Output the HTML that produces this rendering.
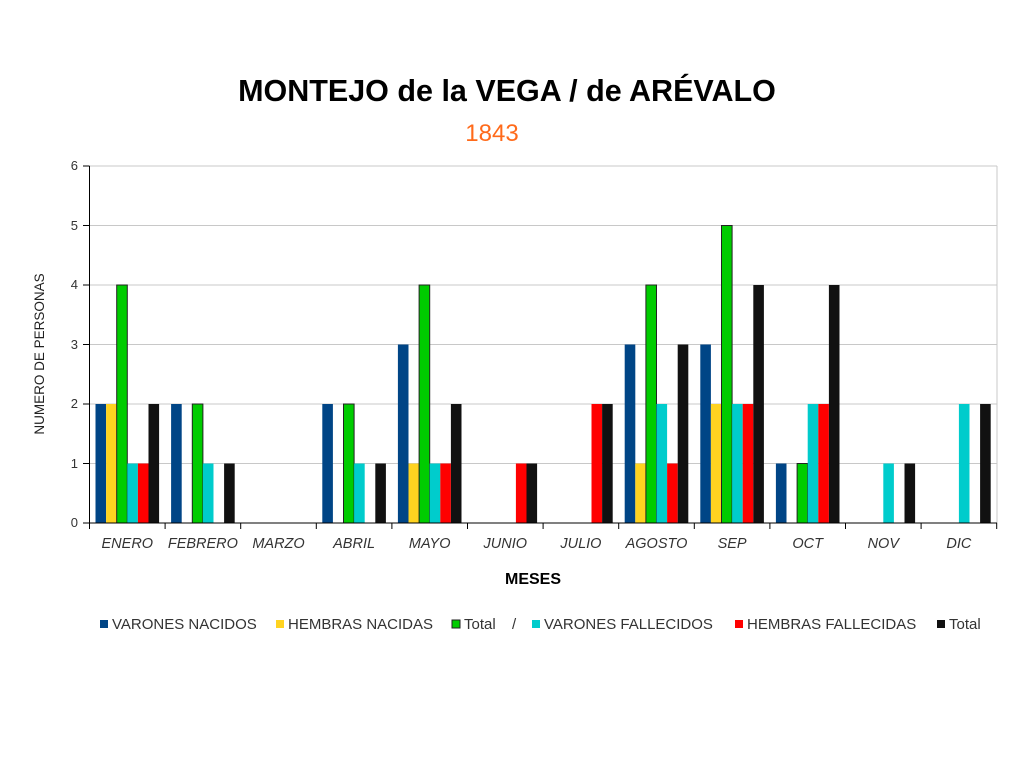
<!DOCTYPE html>
<html><head><meta charset="utf-8"><style>body{margin:0;background:#fff}</style></head><body>
<svg width="1024" height="768" xmlns="http://www.w3.org/2000/svg" font-family="Liberation Sans, sans-serif">
<rect width="1024" height="768" fill="#fff"/>
<text x="507" y="101" text-anchor="middle" font-size="30.5" font-weight="bold" fill="#000">MONTEJO de la VEGA / de ARÉVALO</text>
<text x="492" y="141" text-anchor="middle" font-size="24" fill="#ff6a1a">1843</text>
<g stroke="#c8c8c8" stroke-width="1">
<line x1="89.5" y1="166" x2="997" y2="166"/><line x1="89.5" y1="225.5" x2="997" y2="225.5"/><line x1="89.5" y1="285" x2="997" y2="285"/><line x1="89.5" y1="344.5" x2="997" y2="344.5"/><line x1="89.5" y1="404" x2="997" y2="404"/><line x1="89.5" y1="463.5" x2="997" y2="463.5"/><line x1="997" y1="166" x2="997" y2="523"/>
</g>
<g font-size="13" fill="#333" text-anchor="end">
<text x="78" y="170">6</text><text x="78" y="230">5</text><text x="78" y="289">4</text><text x="78" y="349">3</text><text x="78" y="408">2</text><text x="78" y="468">1</text><text x="78" y="527">0</text>
</g>
<text transform="translate(44,354) rotate(-90)" text-anchor="middle" font-size="13.5" fill="#222">NUMERO DE PERSONAS</text>
<g stroke-width="1">
<g transform="translate(89.5,0)"><rect x="6" y="404" width="10.6" height="119" fill="#004586"/><rect x="16.6" y="404" width="10.6" height="119" fill="#ffd320"/><rect x="27.2" y="285" width="10.6" height="238" fill="#00cc00" stroke="#222"/><rect x="37.8" y="463.5" width="10.6" height="59.5" fill="#00cccc"/><rect x="48.4" y="463.5" width="10.6" height="59.5" fill="#ff0000"/><rect x="59" y="404" width="10.6" height="119" fill="#111"/></g>
<g transform="translate(165.1,0)"><rect x="6" y="404" width="10.6" height="119" fill="#004586"/><rect x="27.2" y="404" width="10.6" height="119" fill="#00cc00" stroke="#222"/><rect x="37.8" y="463.5" width="10.6" height="59.5" fill="#00cccc"/><rect x="59" y="463.5" width="10.6" height="59.5" fill="#111"/></g>
<g transform="translate(316.3,0)"><rect x="6" y="404" width="10.6" height="119" fill="#004586"/><rect x="27.2" y="404" width="10.6" height="119" fill="#00cc00" stroke="#222"/><rect x="37.8" y="463.5" width="10.6" height="59.5" fill="#00cccc"/><rect x="59" y="463.5" width="10.6" height="59.5" fill="#111"/></g>
<g transform="translate(391.9,0)"><rect x="6" y="344.5" width="10.6" height="178.5" fill="#004586"/><rect x="16.6" y="463.5" width="10.6" height="59.5" fill="#ffd320"/><rect x="27.2" y="285" width="10.6" height="238" fill="#00cc00" stroke="#222"/><rect x="37.8" y="463.5" width="10.6" height="59.5" fill="#00cccc"/><rect x="48.4" y="463.5" width="10.6" height="59.5" fill="#ff0000"/><rect x="59" y="404" width="10.6" height="119" fill="#111"/></g>
<g transform="translate(467.5,0)"><rect x="48.4" y="463.5" width="10.6" height="59.5" fill="#ff0000"/><rect x="59" y="463.5" width="10.6" height="59.5" fill="#111"/></g>
<g transform="translate(543.1,0)"><rect x="48.4" y="404" width="10.6" height="119" fill="#ff0000"/><rect x="59" y="404" width="10.6" height="119" fill="#111"/></g>
<g transform="translate(618.7,0)"><rect x="6" y="344.5" width="10.6" height="178.5" fill="#004586"/><rect x="16.6" y="463.5" width="10.6" height="59.5" fill="#ffd320"/><rect x="27.2" y="285" width="10.6" height="238" fill="#00cc00" stroke="#222"/><rect x="37.8" y="404" width="10.6" height="119" fill="#00cccc"/><rect x="48.4" y="463.5" width="10.6" height="59.5" fill="#ff0000"/><rect x="59" y="344.5" width="10.6" height="178.5" fill="#111"/></g>
<g transform="translate(694.3,0)"><rect x="6" y="344.5" width="10.6" height="178.5" fill="#004586"/><rect x="16.6" y="404" width="10.6" height="119" fill="#ffd320"/><rect x="27.2" y="225.5" width="10.6" height="297.5" fill="#00cc00" stroke="#222"/><rect x="37.8" y="404" width="10.6" height="119" fill="#00cccc"/><rect x="48.4" y="404" width="10.6" height="119" fill="#ff0000"/><rect x="59" y="285" width="10.6" height="238" fill="#111"/></g>
<g transform="translate(769.9,0)"><rect x="6" y="463.5" width="10.6" height="59.5" fill="#004586"/><rect x="27.2" y="463.5" width="10.6" height="59.5" fill="#00cc00" stroke="#222"/><rect x="37.8" y="404" width="10.6" height="119" fill="#00cccc"/><rect x="48.4" y="404" width="10.6" height="119" fill="#ff0000"/><rect x="59" y="285" width="10.6" height="238" fill="#111"/></g>
<g transform="translate(845.5,0)"><rect x="37.8" y="463.5" width="10.6" height="59.5" fill="#00cccc"/><rect x="59" y="463.5" width="10.6" height="59.5" fill="#111"/></g>
<g transform="translate(921.1,0)"><rect x="37.8" y="404" width="10.6" height="119" fill="#00cccc"/><rect x="59" y="404" width="10.6" height="119" fill="#111"/></g>
</g>
<g stroke="#000" stroke-width="1">
<line x1="89.5" y1="166" x2="89.5" y2="529"/><line x1="83" y1="523" x2="997" y2="523"/>
<line x1="83" y1="166" x2="89.5" y2="166"/><line x1="83" y1="225.5" x2="89.5" y2="225.5"/><line x1="83" y1="285" x2="89.5" y2="285"/><line x1="83" y1="344.5" x2="89.5" y2="344.5"/><line x1="83" y1="404" x2="89.5" y2="404"/><line x1="83" y1="463.5" x2="89.5" y2="463.5"/>
<line x1="165.1" y1="523" x2="165.1" y2="529"/><line x1="240.7" y1="523" x2="240.7" y2="529"/><line x1="316.3" y1="523" x2="316.3" y2="529"/><line x1="391.9" y1="523" x2="391.9" y2="529"/><line x1="467.5" y1="523" x2="467.5" y2="529"/><line x1="543.1" y1="523" x2="543.1" y2="529"/><line x1="618.7" y1="523" x2="618.7" y2="529"/><line x1="694.3" y1="523" x2="694.3" y2="529"/><line x1="769.9" y1="523" x2="769.9" y2="529"/><line x1="845.5" y1="523" x2="845.5" y2="529"/><line x1="921.1" y1="523" x2="921.1" y2="529"/><line x1="996.7" y1="523" x2="996.7" y2="529"/>
</g>
<g font-size="14.5" font-style="italic" fill="#333" text-anchor="middle">
<text x="127.3" y="548">ENERO</text><text x="202.9" y="548">FEBRERO</text><text x="278.5" y="548">MARZO</text><text x="354.1" y="548">ABRIL</text><text x="429.7" y="548">MAYO</text><text x="505.3" y="548">JUNIO</text><text x="580.9" y="548">JULIO</text><text x="656.5" y="548">AGOSTO</text><text x="732.1" y="548">SEP</text><text x="807.7" y="548">OCT</text><text x="883.3" y="548">NOV</text><text x="958.9" y="548">DIC</text>
</g>
<text x="533" y="584" text-anchor="middle" font-size="16" font-weight="bold" fill="#000">MESES</text>
<g font-size="15" fill="#333">
<rect x="100" y="620" width="8" height="8" fill="#004586"/><text x="112" y="629">VARONES NACIDOS</text>
<rect x="276" y="620" width="8" height="8" fill="#ffd320"/><text x="288" y="629">HEMBRAS NACIDAS</text>
<rect x="452" y="620" width="8" height="8" fill="#00cc00" stroke="#222"/><text x="464" y="629">Total</text>
<text x="512" y="629">/</text>
<rect x="532" y="620" width="8" height="8" fill="#00cccc"/><text x="544" y="629">VARONES FALLECIDOS</text>
<rect x="735" y="620" width="8" height="8" fill="#ff0000"/><text x="747" y="629">HEMBRAS FALLECIDAS</text>
<rect x="937" y="620" width="8" height="8" fill="#111"/><text x="949" y="629">Total</text>
</g>
</svg>
</body></html>
